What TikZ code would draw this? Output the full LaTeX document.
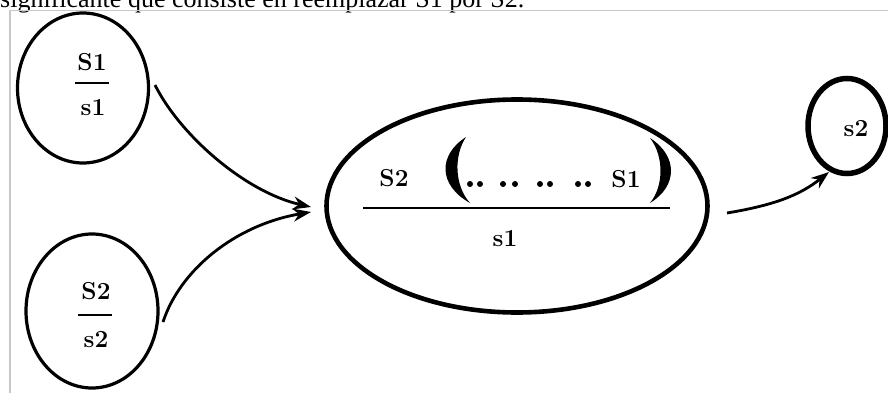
\documentclass[tikz,border=0pt]{standalone}
\usepackage{fontspec}
\newfontfamily\captfont{Liberation Serif}
\usetikzlibrary{shapes.geometric,arrows.meta}
\begin{document}
\begin{tikzpicture}[x=1pt,y=-1pt,
  lbl/.style={font=\fontsize{24.5}{26}\selectfont\bfseries, inner sep=0pt},
  ring/.style={draw, ellipse, inner sep=0pt, line width=3.2pt},
  arr/.style={line width=2.8pt, -{Stealth[length=18pt,width=13pt]}},
  bar/.style={line width=1.5pt},
  dot/.style={fill, circle, inner sep=0pt, minimum size=6pt},
  frame/.style={draw=black!22, line width=1.2pt}]
\useasboundingbox (0,0) rectangle (888,393);
\begin{scope}
\clip (0,0) rectangle (888,393);
\node[anchor=base west, font=\captfont\fontsize{26}{28}\selectfont, inner sep=0pt] (cap) at (0,8) {significante que consiste en reemplazar S1 por S2.};
\end{scope}
\draw[frame] (888,10.5) -- (10,10.5) -- (10,393);

% left top circle
\node[ring, minimum width=131pt, minimum height=150pt] (c1) at (83,88) {};
\node[lbl] (c1n) at (92,62) {S1};
\node[lbl] (c1d) at (93,108) {s1};
\draw[bar] (75,83) -- (109,83);

% left bottom circle
\node[ring, minimum width=132pt, minimum height=154pt] (c2) at (92,311) {};
\node[lbl] (c2n) at (96,291) {S2};
\node[lbl] (c2d) at (96,340) {s2};
\draw[bar] (78,315) -- (112,315);

% big ellipse
\node[ring, line width=4.6pt, minimum width=381pt, minimum height=213pt] (big) at (517,206) {};
\node[lbl] (bn1) at (394,178) {S2};
\node[lbl] (bn2) at (626,179) {S1};
\node[lbl] (bd) at (505,239) {s1};
\draw[bar] (363,208) -- (670,208);
\fill (466,137) .. controls (438,155) and (438,185) .. (470,203)
  .. controls (454,185) and (454,155) .. (466,137) -- cycle;
\fill (650,138) .. controls (678,156) and (678,186) .. (650,203)
  .. controls (664,186) and (664,156) .. (650,138) -- cycle;
\foreach \x in {470,480,503,515,540,550,578,588}
  \node[dot] at (\x,184) {};

% right small circle
\node[ring, line width=5.5pt, minimum width=78pt, minimum height=95pt] (c3) at (847,126) {};
\node[lbl] (c3t) at (856,129) {s2};

% connectors
\coordinate (a1s) at (155,85);
\coordinate (a1e) at (311,207);
\coordinate (a2s) at (163,322);
\coordinate (a2e) at (311,212);
\coordinate (a3s) at (727,213);
\coordinate (a3e) at (829,172);
\draw[arr] (a1s) .. controls (180,135) and (245,192) .. (a1e);
\draw[arr] (a2s) .. controls (180,270) and (235,225) .. (a2e);
\draw[arr] (a3s) .. controls (775,205) and (800,195) .. (a3e);
\end{tikzpicture}
\end{document}
